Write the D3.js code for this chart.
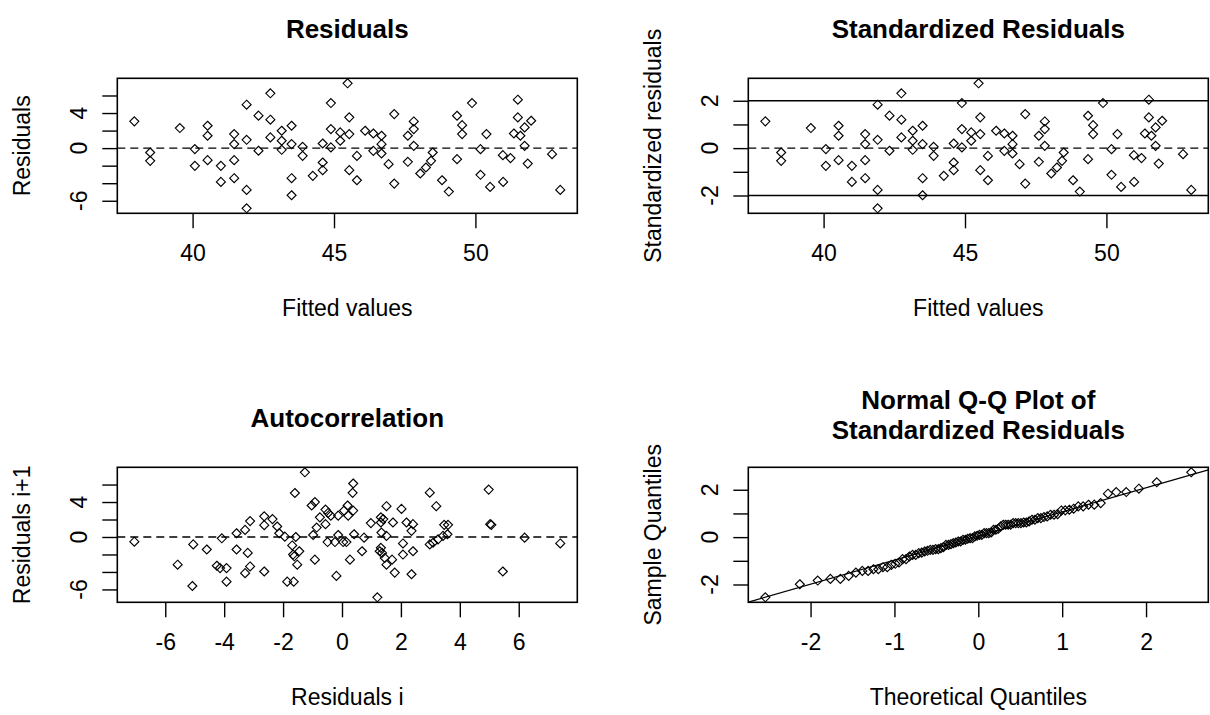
<!DOCTYPE html>
<html>
<head>
<meta charset="utf-8">
<script src="https://cdn.jsdelivr.net/npm/d3@7"></script>
<style>
  body { margin: 0; background: #fff; }
  text { font-family: "Liberation Sans", Arial, sans-serif; fill: #000; }
</style>
</head>
<body>
<svg id="chart" width="1210" height="715"></svg>
<script>
// fitted values and residuals
const fittedValues = [37.94, 38.50, 38.50, 39.55, 40.08, 40.08, 40.53, 40.53, 40.53, 41.00,
  41.00, 41.47, 41.47, 41.47, 41.47, 41.91, 41.91, 41.91, 41.91, 42.33,
  42.33, 42.75, 42.75, 42.75, 43.15, 43.15, 43.15, 43.50, 43.50, 43.50,
  43.50, 43.89, 43.89, 44.25, 44.60, 44.60, 44.60, 44.89, 44.89, 44.89,
  45.22, 45.22, 45.54, 45.54, 45.54, 45.48, 45.81, 45.81, 46.10, 46.39,
  46.39, 46.68, 46.68, 46.68, 46.93, 47.13, 47.13, 47.61, 47.61, 47.82,
  47.82, 47.82, 48.05, 48.25, 48.43, 48.49, 48.82, 49.06, 49.35, 49.53,
  49.53, 49.35, 49.88, 50.18, 50.18, 50.39, 50.52, 50.97, 50.98, 51.24,
  51.50, 51.50, 51.36, 51.59, 51.74, 51.97, 51.74, 51.85, 52.71, 53.00];
const residuals = [3.05, -0.50, -1.45, 2.29, -0.11, -2.02, 2.55, 1.41, -1.37, -2.02,
  -3.85, 1.60, 0.46, -1.37, -3.43, 4.95, 0.95, -4.76, -6.86, 3.70,
  -0.30, 6.25, 3.24, 1.22, 1.98, 0.84, -0.19, 2.55, 0.46, -3.43,
  -5.37, 0.15, -0.88, -3.16, 0.53, -1.64, -2.51, 5.14, 2.17, 0.08,
  1.79, 0.84, 3.51, 1.60, -2.51, 7.39, -0.89, -3.66, 1.98, 1.67,
  -0.31, 1.41, 0.45, -0.61, -1.83, 3.88, -4.04, 1.41, -1.56, 3.04,
  2.17, 0.26, -2.89, -2.21, -1.45, -0.50, -3.66, -4.95, 3.69, 2.62,
  1.60, -1.26, 5.14, -0.12, -3.04, 1.60, -4.42, -0.80, -3.85, -1.14,
  5.52, 3.50, 1.67, 1.41, 2.36, 3.12, 0.26, -1.76, -0.69, -4.76];
// residual standard error (the +2 line of the top-right panel sits at residual 5.4)
const residualSE = 2.70;

// lag pairs (residual i, residual i+1)
const lagResidualI = [-7.05, -5.58, -5.05, -5.08, -4.59, -4.25, -4.14, -3.92, -3.92, -4.08,
  -3.58, -3.58, -3.29, -3.12, -3.20, -3.12, -3.29, -2.64, -2.64, -2.64,
  -2.36, -2.20, -2.13, -1.94, -1.69, -1.66, -1.62, -1.45, -1.52, -1.86,
  -1.64, -1.57, -1.60, -1.26, -1.03, -0.92, -0.92, -0.98, -0.86, -0.75,
  -0.56, -0.49, -0.47, -0.38, -0.56, -0.24, -0.19, -0.13, -0.13, 0.04,
  0.07, 0.15, 0.19, 0.21, 0.27, 0.38, 0.36, 0.38, 0.41, 0.75,
  0.68, 0.98, 1.20, 1.32, 1.32, 1.40, 1.34, 1.51, 1.51, 1.32,
  1.28, 1.36, 1.45, 1.51, 1.70, 1.79, 1.73, 2.02, 2.07, 2.07,
  2.19, 2.36, 2.41, 2.41, 2.36, 2.98, 3.20, 2.98, 3.09, 3.26,
  3.43, 3.47, 3.60, 3.58, 4.98, 5.07, 5.03, 5.46, 6.20, 7.41];
const lagResidualNext = [-0.54, -3.17, -0.85, -5.61, -1.43, -3.29, -3.56, -3.56, -5.11, -0.15,
  0.43, -1.43, 0.81, 1.82, -1.82, -3.37, -4.14, 2.36, 1.35, -3.95,
  2.05, 1.20, 0.43, 0.04, -0.97, -2.01, -2.21, -1.63, -3.17, -5.11,
  -5.11, 0.00, 5.03, 7.40, 3.60, 3.99, -2.59, 0.23, 1.08, 2.25,
  3.14, -0.58, 2.75, 2.44, 1.47, -0.58, -4.45, 2.44, 0.23, -0.58,
  3.02, -0.58, 3.60, 2.44, -2.59, 6.12, 5.05, 3.02, 0.31, -0.08,
  -1.63, 1.59, -6.90, 2.25, 1.66, 2.05, 0.50, 0.12, 3.52, -1.24,
  -1.63, -1.82, -2.40, -3.17, -2.59, -4.07, 1.66, 3.21, -0.74, -2.01,
  1.66, 0.70, 1.47, -1.63, -4.26, 5.07, 3.52, -0.85, -0.66, -0.27,
  0.12, 1.39, 1.39, 0.31, 5.42, 1.39, 1.47, -3.95, -0.08, -0.74];

// ticks and the labels R kept after dropping overlapping ones
const fittedTicks = [40, 45, 50];
const residTicks = [-6, -4, -2, 0, 2, 4, 6];
const residTickLabels = [-6, 0, 4];
const stdTicks = [-2, -1, 0, 1, 2];
const stdTickLabels = [-2, 0, 2];
const lagTicks = [-6, -4, -2, 0, 2, 4, 6];
const qqTicks = [-2, -1, 0, 1, 2];
const qqTickLabels = [-2, 0, 2];

const stdResiduals = residuals.map(r => r / residualSE);

// inverse normal CDF (Acklam), for the theoretical quantiles
function qnorm(p) {
  const a = [-3.969683028665376e+01, 2.209460984245205e+02, -2.759285104469687e+02, 1.383577518672690e+02, -3.066479806614716e+01, 2.506628277459239e+00];
  const b = [-5.447609879822406e+01, 1.615858368580409e+02, -1.556989798598866e+02, 6.680131188771972e+01, -1.328068155288572e+01];
  const c = [-7.784894002430293e-03, -3.223964580411365e-01, -2.400758277161838e+00, -2.549732539343734e+00, 4.374664141464968e+00, 2.938163982698783e+00];
  const d = [7.784695709041462e-03, 3.224671290700398e-01, 2.445134137142996e+00, 3.754408661907416e+00];
  const plow = 0.02425;
  if (p < plow) {
    const q = Math.sqrt(-2 * Math.log(p));
    return (((((c[0]*q+c[1])*q+c[2])*q+c[3])*q+c[4])*q+c[5]) / ((((d[0]*q+d[1])*q+d[2])*q+d[3])*q+1);
  }
  if (p > 1 - plow) {
    const q = Math.sqrt(-2 * Math.log(1 - p));
    return -(((((c[0]*q+c[1])*q+c[2])*q+c[3])*q+c[4])*q+c[5]) / ((((d[0]*q+d[1])*q+d[2])*q+d[3])*q+1);
  }
  const q = p - 0.5, r = q * q;
  return (((((a[0]*r+a[1])*r+a[2])*r+a[3])*r+a[4])*r+a[5])*q / (((((b[0]*r+b[1])*r+b[2])*r+b[3])*r+b[4])*r+1);
}

const sampleQ = stdResiduals.slice().sort(d3.ascending);
const n = sampleQ.length;
const theoQ = sampleQ.map((_, i) => qnorm((i + 1 - 0.5) / n));

// R style 4% axis padding
const pad = ext => {
  const e = 0.04 * (ext[1] - ext[0]);
  return [ext[0] - e, ext[1] + e];
};

const svg = d3.select("#chart");
const boxW = 460, boxH = 135;
const tickLen = 15;
const diamond = "M0,-4.5L4.5,0L0,4.5L-4.5,0Z";

function panel(opts) {
  const left = 117.3 + opts.col * 631;
  const top = 78.3 + opts.row * 389;
  const g = svg.append("g").attr("transform", `translate(${left},${top})`);
  const x = d3.scaleLinear().domain(opts.xDomain).range([0, boxW]);
  const y = d3.scaleLinear().domain(opts.yDomain).range([boxH, 0]);

  const id = "clip" + opts.row + opts.col;
  g.append("clipPath").attr("id", id)
    .append("rect").attr("width", boxW).attr("height", boxH);

  // x axis
  const xa = g.append("g").attr("transform", `translate(0,${boxH})`)
    .call(d3.axisBottom(x).tickValues(opts.xTicks).tickSize(tickLen).tickPadding(16)
      .tickFormat(d => String(d)));
  xa.select(".domain").remove();
  xa.selectAll("line").attr("stroke", "#000").attr("stroke-width", 1.4);
  xa.selectAll("text").attr("font-size", 23).attr("fill", "#000")
    .attr("font-family", "Liberation Sans, Arial, sans-serif");

  // y axis, labels drawn rotated like R
  const ya = g.append("g")
    .call(d3.axisLeft(y).tickValues(opts.yTicks).tickSize(tickLen).tickFormat(""));
  ya.select(".domain").remove();
  ya.selectAll("line").attr("stroke", "#000").attr("stroke-width", 1.4);
  g.selectAll(".ylab").data(opts.yLabels).enter().append("text")
    .attr("class", "ylab")
    .attr("transform", d => `translate(-30,${y(d)}) rotate(-90)`)
    .attr("text-anchor", "middle")
    .attr("font-size", 23)
    .text(d => String(d));

  // reference lines
  (opts.hlines || []).forEach(h => {
    g.append("line")
      .attr("x1", 0).attr("x2", boxW)
      .attr("y1", y(h.v)).attr("y2", y(h.v))
      .attr("stroke", "#000").attr("stroke-width", 1.4)
      .attr("stroke-dasharray", h.dash ? "8,5" : null);
  });

  // box
  g.append("rect").attr("width", boxW).attr("height", boxH)
    .attr("fill", "none").attr("stroke", "#000").attr("stroke-width", 1.6);

  // titles
  const titleLines = opts.title;
  const t0 = opts.row * 389 + 38 - (titleLines.length - 1) * 18 - top;
  titleLines.forEach((line, i) => {
    g.append("text")
      .attr("x", boxW / 2).attr("y", t0 + i * 30)
      .attr("text-anchor", "middle")
      .attr("font-size", 26).attr("font-weight", "bold")
      .text(line);
  });
  g.append("text")
    .attr("x", boxW / 2).attr("y", boxH + 103)
    .attr("text-anchor", "middle").attr("font-size", 23)
    .text(opts.xLab);
  g.append("text")
    .attr("transform", `translate(-87,${boxH / 2}) rotate(-90)`)
    .attr("text-anchor", "middle").attr("font-size", 23)
    .text(opts.yLab);

  return { g, x, y, clip: id };
}

function drawPoints(p, xs, ys) {
  p.g.append("g").selectAll("path").data(xs).enter().append("path")
    .attr("d", diamond)
    .attr("transform", (d, i) => `translate(${p.x(d)},${p.y(ys[i])})`)
    .attr("fill", "none").attr("stroke", "#000").attr("stroke-width", 1.15);
}

// Residuals
const p1 = panel({
  row: 0, col: 0,
  xDomain: pad(d3.extent(fittedValues)), yDomain: pad(d3.extent(residuals)),
  xTicks: fittedTicks, yTicks: residTicks, yLabels: residTickLabels,
  title: ["Residuals"], xLab: "Fitted values", yLab: "Residuals",
  hlines: [{ v: 0, dash: true }]
});
drawPoints(p1, fittedValues, residuals);

// Standardized Residuals
const p2 = panel({
  row: 0, col: 1,
  xDomain: pad(d3.extent(fittedValues)), yDomain: pad(d3.extent(stdResiduals)),
  xTicks: fittedTicks, yTicks: stdTicks, yLabels: stdTickLabels,
  title: ["Standardized Residuals"], xLab: "Fitted values", yLab: "Standardized residuals",
  hlines: [{ v: 0, dash: true }, { v: 2 }, { v: -2 }]
});
drawPoints(p2, fittedValues, stdResiduals);

// Autocorrelation
const p3 = panel({
  row: 1, col: 0,
  xDomain: pad(d3.extent(lagResidualI)), yDomain: pad(d3.extent(lagResidualNext)),
  xTicks: lagTicks, yTicks: residTicks, yLabels: residTickLabels,
  title: ["Autocorrelation"], xLab: "Residuals i", yLab: "Residuals i+1",
  hlines: [{ v: 0, dash: true }]
});
drawPoints(p3, lagResidualI, lagResidualNext);

// Normal Q-Q
const p4 = panel({
  row: 1, col: 1,
  xDomain: pad(d3.extent(theoQ)), yDomain: pad(d3.extent(sampleQ)),
  xTicks: qqTicks, yTicks: qqTicks, yLabels: qqTickLabels,
  title: ["Normal Q-Q Plot of", "Standardized Residuals"],
  xLab: "Theoretical Quantiles", yLab: "Sample Quantiles"
});
drawPoints(p4, theoQ, sampleQ);

// qqline through the quartiles
const q1 = d3.quantile(sampleQ, 0.25), q3 = d3.quantile(sampleQ, 0.75);
const slope = (q3 - q1) / (qnorm(0.75) - qnorm(0.25));
const intercept = q1 - slope * qnorm(0.25);
const xd = p4.x.domain();
p4.g.append("line")
  .attr("clip-path", `url(#${p4.clip})`)
  .attr("x1", p4.x(xd[0])).attr("y1", p4.y(intercept + slope * xd[0]))
  .attr("x2", p4.x(xd[1])).attr("y2", p4.y(intercept + slope * xd[1]))
  .attr("stroke", "#000").attr("stroke-width", 1.2);
</script>
</body>
</html>
